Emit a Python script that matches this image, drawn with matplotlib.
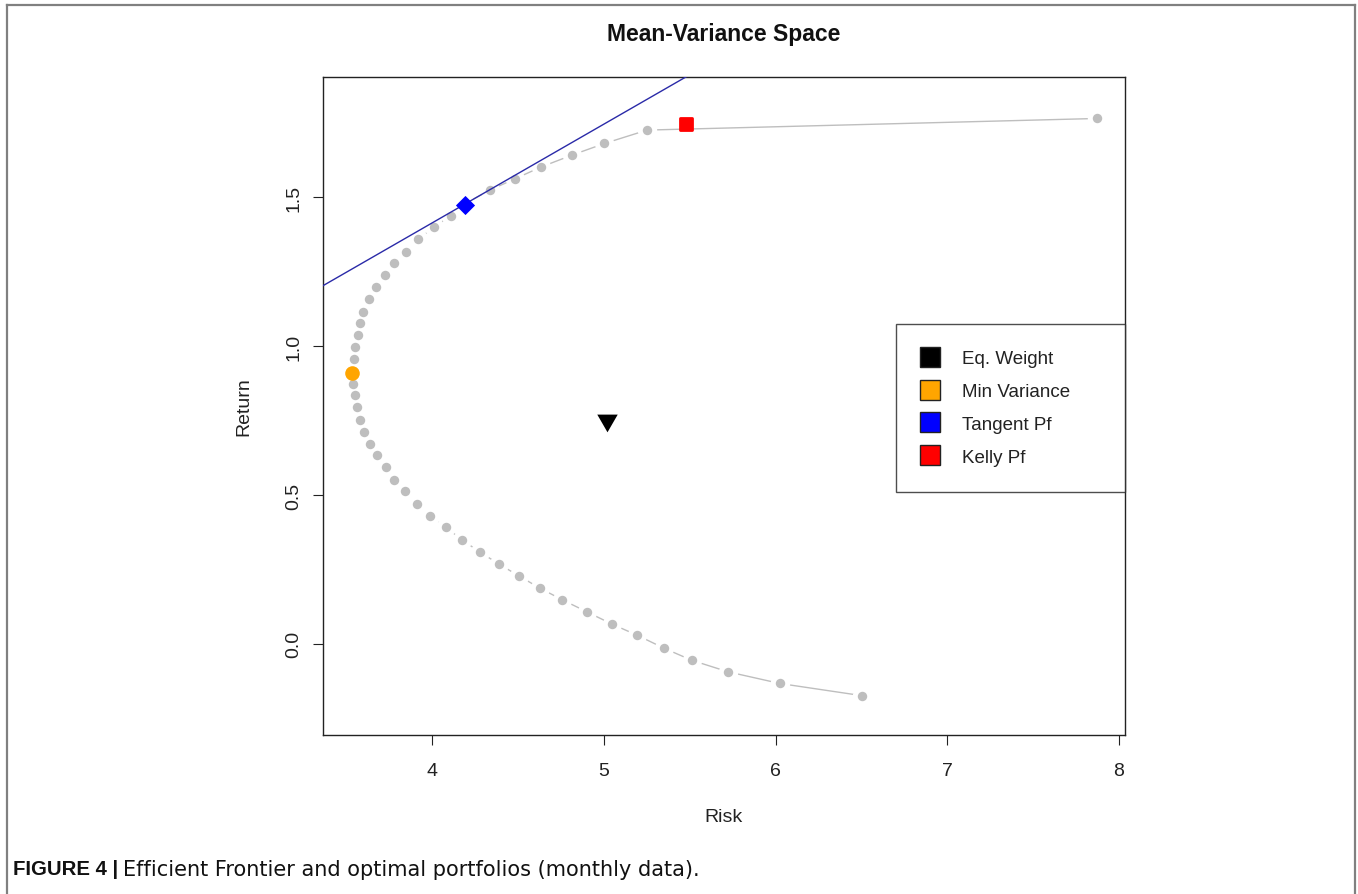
import numpy as np
import matplotlib
matplotlib.use("Agg")
import matplotlib.pyplot as plt
from matplotlib.lines import Line2D
from matplotlib.markers import MarkerStyle

plt.rcParams["font.family"] = ["Liberation Sans", "DejaVu Sans"]

# efficient frontier points (risk, return)
risk = [6.505, 6.026, 5.725, 5.512, 5.349, 5.195, 5.046, 4.904, 4.759, 4.629,
        4.504, 4.387, 4.278, 4.175, 4.080, 3.990, 3.914, 3.841, 3.779, 3.732,
        3.682, 3.641, 3.606, 3.579, 3.565, 3.552, 3.540, 3.536, 3.544, 3.552,
        3.567, 3.579, 3.598, 3.634, 3.676, 3.725, 3.779, 3.847, 3.920, 4.013,
        4.111, 4.192, 4.339, 4.485, 4.635, 4.815, 5.004, 5.252, 7.872]
ret = [-0.174, -0.133, -0.094, -0.055, -0.014, 0.029, 0.067, 0.107, 0.148, 0.187,
       0.229, 0.269, 0.309, 0.349, 0.392, 0.431, 0.471, 0.512, 0.551, 0.594,
       0.634, 0.673, 0.713, 0.752, 0.795, 0.835, 0.874, 0.915, 0.957, 0.998,
       1.038, 1.077, 1.116, 1.158, 1.198, 1.238, 1.279, 1.318, 1.360, 1.400,
       1.439, 1.479, 1.525, 1.563, 1.602, 1.642, 1.681, 1.726, 1.765]

# optimal portfolios
pf_names = ["Eq. Weight", "Min Variance", "Tangent Pf", "Kelly Pf"]
pf_risk = [5.017, 3.536, 4.192, 5.476]
pf_ret = [0.752, 0.911, 1.473, 1.746]
pf_colors = ["black", "orange", "blue", "red"]

# capital market line
rf = 0.0868
cml_slope = 0.3318

xticks = [4, 5, 6, 7, 8]
yticks = [0.0, 0.5, 1.0, 1.5]
ytick_labels = ["0.0", "0.5", "1.0", "1.5"]

W, H = 1358, 895
fig = plt.figure(figsize=(W / 100, H / 100), dpi=100)
ax = fig.add_axes([323 / W, 1 - 736 / H, 802 / W, 658.5 / H])

grey = "#BEBEBE"
# frontier line with gaps around the points (R type="b")
ax.plot(risk, ret, color=grey, lw=1.0, zorder=1)
ax.plot(risk, ret, "o", ls="none", ms=14, color="white", mew=0, zorder=2)
ax.plot(risk, ret, "o", ls="none", ms=6.8, color=grey, mew=0, zorder=3)

ax.axline((0, rf), slope=cml_slope, color="#2a2aa8", lw=1.0, zorder=4)

tri = [(-1, 0.577), (1, 0.577), (0, -1.155)]
ax.plot(pf_risk[0], pf_ret[0], marker=tri, ms=17, color="black", mew=0, ls="none", zorder=5)
ax.plot(pf_risk[1], pf_ret[1], "o", ms=10.5, color="orange", mew=0, ls="none", zorder=5)
ax.plot(pf_risk[2], pf_ret[2], "D", ms=8.8, color="blue", mew=0.6, ls="none", zorder=5)
ax.plot(pf_risk[3], pf_ret[3], marker=MarkerStyle("s", joinstyle="round"), ms=8.8,
        color="red", mew=2, ls="none", zorder=5)

ax.set_xlim(3.365, 8.035)
ax.set_ylim(-0.306, 1.906)
ax.set_xticks(xticks)
ax.set_xticklabels([str(t) for t in xticks])
ax.set_yticks(yticks)
ax.set_yticklabels(ytick_labels, rotation=90, va="center")
ax.tick_params(axis="both", length=7.2, width=0.8, labelsize=14, colors="#222222")
ax.tick_params(axis="x", pad=12.5)
ax.tick_params(axis="y", pad=7.5)
for sp in ax.spines.values():
    sp.set_linewidth(1.0)
    sp.set_color("#222222")

ax.set_xlabel("Risk", fontsize=14, color="#222222", va="center")
ax.set_ylabel("Return", fontsize=14, color="#222222", va="center")
ax.xaxis.set_label_coords(0.5, -0.1245)
ax.yaxis.set_label_coords(-0.0985, 0.5)

fig.text(724 / W, 1 - 40.7 / H, "Mean-Variance Space", ha="center", va="baseline",
         fontsize=16.5, fontweight="bold", color="#111111")

handles = [Line2D([], [], marker="s", ls="none", ms=14, markerfacecolor=c,
                  markeredgecolor="#222222", mew=1.0) for c in pf_colors]
leg = ax.legend(handles, pf_names, loc="upper left",
                bbox_to_anchor=(0.714, 0.3725, 0.286, 0.2521), mode="expand",
                fontsize=13.5, frameon=True, fancybox=False, borderpad=1.42,
                labelspacing=0.83, handlelength=0.8, handletextpad=1.34,
                borderaxespad=0)
leg.get_frame().set_edgecolor("#222222")
leg.get_frame().set_linewidth(1.0)
for t in leg.get_texts():
    t.set_color("#222222")

# page frame (open at the bottom)
frame_kw = dict(color="#808080", lw=1.6, transform=fig.transFigure)
fig.add_artist(Line2D([7 / W, 1355 / W], [1 - 6 / H, 1 - 6 / H], **frame_kw))
fig.add_artist(Line2D([7 / W, 7 / W], [0, 1 - 6 / H], **frame_kw))
fig.add_artist(Line2D([1355 / W, 1355 / W], [0, 1 - 6 / H], **frame_kw))

# caption
cap_y = 1 - 870 / H
t1 = fig.text(13 / W, cap_y, "FIGURE 4 |", fontsize=14.7, fontweight="bold",
              va="center", color="#111111")
renderer = fig.canvas.get_renderer()
bb = t1.get_window_extent(renderer)
fig.text((bb.x1 + 5) / W, cap_y, "Efficient Frontier and optimal portfolios (monthly data).",
         fontsize=15, family=["DejaVu Sans"], va="center", color="#111111")

fig.savefig("out.png", dpi=100)
